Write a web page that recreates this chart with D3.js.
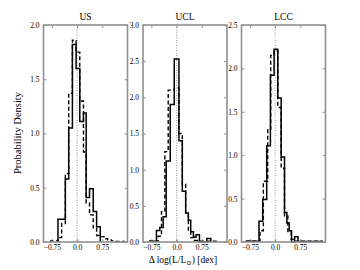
<!DOCTYPE html>
<html>
<head>
<meta charset="utf-8">
<script src="https://cdn.jsdelivr.net/npm/d3@7"></script>
<style>
    body { margin: 0; background: #fff; }
    text { font-family: "Liberation Serif", "DejaVu Serif", serif; fill: #000; }
</style>
</head>
<body>
<svg id="chart" width="360" height="270"></svg>
<script>
/*globals d3*/

var panelNames = ["US", "UCL", "LCC"];
var xTicks = [-0.75, 0, 0.75];
var yMax = [2.0, 3.0, 2.5];

// bin edges (dex) and probability densities
var usSolidEdges = [-0.57, -0.46, -0.35, -0.25, -0.14, -0.03, 0.08, 0.19, 0.27, 0.37, 0.48, 0.58, 0.69];
var usSolid = [0.21, 0.21, 0.58, 1.05, 1.82, 1.60, 1.11, 1.19, 0.41, 0.49, 0.28, 0.14];
var usDashEdges = [-0.79, -0.57, -0.46, -0.35, -0.25, -0.14, -0.03, 0.08, 0.19, 0.27, 0.37, 0.48, 0.58, 0.69, 0.80, 0.91, 1.02, 1.13, 1.40];
var usDash = [0.01, 0.04, 0.17, 0.63, 1.37, 1.86, 1.75, 1.30, 0.83, 0.36, 0.25, 0.13, 0.06, 0.05, 0.03, 0.02, 0.01, 0.005];

var uclSolidEdges = [-0.80, -0.60, -0.50, -0.40, -0.31, -0.19, -0.07, 0.07, 0.17, 0.27, 0.35, 0.42, 0.50, 0.58, 0.68, 0.90, 1.02];
var uclSolid = [0.01, 0.16, 0.20, 0.35, 1.12, 1.90, 2.53, 1.40, 0.70, 0.40, 0.30, 0.14, 0.07, 0.10, 0.00, 0.05];
var uclDashEdges = [-0.80, -0.55, -0.45, -0.35, -0.25, -0.14, -0.07, 0.07, 0.17, 0.27, 0.35, 0.42, 0.52, 0.62, 1.20];
var uclDash = [0.01, 0.08, 0.42, 1.25, 2.10, 2.10, 2.13, 1.50, 0.80, 0.40, 0.15, 0.06, 0.02, 0.01];

var lccSolidEdges = [-0.85, -0.48, -0.37, -0.25, -0.14, -0.03, 0.08, 0.18, 0.28, 0.35, 0.42, 0.49, 0.58, 0.68, 1.40];
var lccSolid = [0.01, 0.24, 0.49, 1.11, 1.92, 2.22, 1.66, 0.98, 0.34, 0.22, 0.13, 0.00, 0.06, 0.005];
var lccDashEdges = [-0.85, -0.45, -0.35, -0.22, -0.13, -0.03, 0.08, 0.18, 0.28, 0.38, 0.48, 0.58, 1.40];
var lccDash = [0.01, 0.13, 0.70, 1.29, 2.15, 2.20, 1.55, 0.85, 0.30, 0.12, 0.03, 0.01];

var solidEdges = [usSolidEdges, uclSolidEdges, lccSolidEdges];
var solidValues = [usSolid, uclSolid, lccSolid];
var dashEdges = [usDashEdges, uclDashEdges, lccDashEdges];
var dashValues = [usDash, uclDash, lccDash];

function stepPoints(edges, values) {
    "use strict";

    var pts = [[edges[0], 0]],
        i;
    for (i = 0; i < values.length; i += 1) {
        pts.push([edges[i], values[i]]);
        pts.push([edges[i + 1], values[i]]);
    }
    pts.push([edges[edges.length - 1], 0]);
    return pts;
}

function panel(spec) {
    "use strict";

    var svg = d3.select("#chart"),
        left = spec.left,
        width = 84,
        top = 25,
        height = 217,
        x,
        y,
        g,
        line,
        yTicks;

    x = d3.scaleLinear().domain([-1.0, 1.5]).range([0, width]);
    y = d3.scaleLinear().domain([0, spec.yMax]).range([height, 0]);
    yTicks = d3.range(0, spec.yMax + 0.01, 0.5);

    g = svg.append("g")
        .attr("transform", "translate(" + left + "," + top + ")");

    line = d3.line()
        .x(function (d) { return x(d[0]); })
        .y(function (d) { return y(d[1]); });

    // dotted zero line
    g.append("line")
        .attr("x1", x(0)).attr("x2", x(0))
        .attr("y1", 0).attr("y2", height)
        .attr("stroke", "#777")
        .attr("stroke-width", 0.8)
        .attr("stroke-dasharray", "1,1.5");

    g.append("path")
        .attr("d", line(stepPoints(spec.dashEdges, spec.dash)))
        .attr("fill", "none")
        .attr("stroke", "#000")
        .attr("stroke-width", 1.4)
        .attr("stroke-dasharray", "4,2.5");

    g.append("path")
        .attr("d", line(stepPoints(spec.solidEdges, spec.solid)))
        .attr("fill", "none")
        .attr("stroke", "#000")
        .attr("stroke-width", 1.5);

    // axes: labels on bottom/left, inward ticks on all sides
    g.append("g")
        .attr("class", "axis")
        .attr("transform", "translate(0," + height + ")")
        .call(d3.axisBottom(x).tickValues(xTicks).tickSizeInner(-3).tickSizeOuter(0).tickPadding(3)
            .tickFormat(function (d) { return d === 0 ? "0.0" : d3.format(".2f")(d).replace("-", "\u2212"); }));
    g.append("g")
        .attr("class", "axis")
        .call(d3.axisTop(x).tickValues(xTicks).tickSizeInner(-3).tickSizeOuter(0).tickFormat(""));
    g.append("g")
        .attr("class", "axis")
        .call(d3.axisLeft(y).tickValues(yTicks).tickSizeInner(-3).tickSizeOuter(0).tickPadding(4)
            .tickFormat(d3.format(".1f")));
    g.append("g")
        .attr("class", "axis")
        .attr("transform", "translate(" + width + ",0)")
        .call(d3.axisRight(y).tickValues(yTicks).tickSizeInner(-3).tickSizeOuter(0).tickFormat(""));

    g.selectAll(".axis .domain").remove();
    g.selectAll(".axis line").attr("stroke", "#444").attr("stroke-width", 0.6);
    g.selectAll(".axis text").style("font-size", "7.5px").attr("fill", "#000");

    g.append("rect")
        .attr("width", width)
        .attr("height", height)
        .attr("fill", "none")
        .attr("stroke", "#909090")
        .attr("stroke-width", 1.6);

    g.append("text")
        .attr("x", width / 2)
        .attr("y", -5)
        .attr("text-anchor", "middle")
        .style("font-size", "9.5px")
        .text(spec.name);
}

panelNames.forEach(function (name, i) {
    "use strict";

    panel({
        name: name,
        left: [43.5, 143, 241.5][i],
        yMax: yMax[i],
        solidEdges: solidEdges[i],
        solid: solidValues[i],
        dashEdges: dashEdges[i],
        dash: dashValues[i]
    });
});

var svg = d3.select("#chart");

svg.append("text")
    .attr("transform", "translate(21,133) rotate(-90)")
    .attr("text-anchor", "middle")
    .style("font-size", "10.5px")
    .text("Probability Density");

var xl = svg.append("text")
    .attr("x", 183)
    .attr("y", 263)
    .attr("text-anchor", "middle")
    .style("font-size", "9.5px");
xl.append("tspan").text("\u0394 log(L/L");
xl.append("tspan").attr("dy", 2).style("font-size", "6.5px").text("\u2299");
xl.append("tspan").attr("dy", -2).text(") [dex]");
</script>
</body>
</html>
